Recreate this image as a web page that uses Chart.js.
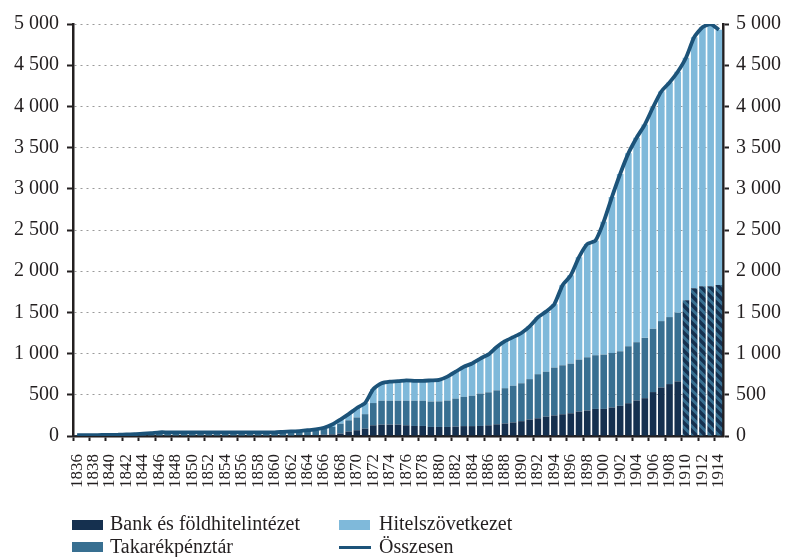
<!DOCTYPE html>
<html lang="hu">
<head>
<meta charset="UTF-8">
<title>Hitelintézetek 1836–1914</title>
<script src="https://cdn.jsdelivr.net/npm/chart.js"></script>
<style>
    body { margin: 0; background: #fff; }
    #wrap { position: relative; width: 787px; height: 557px; }
    #chart { position: absolute; left: 0; top: 0; }
    .lg-box { position: absolute; width: 31px; height: 10px; }
    .lg-line { position: absolute; width: 32px; height: 3px; }
    .lg-txt { position: absolute; font-family: 'Liberation Serif', serif; font-size: 20px; line-height: 20px; color: #231f20; white-space: nowrap; }
</style>
</head>
<body>
<div id="wrap">
    <canvas id="chart" width="787" height="557"></canvas>
    <!-- legend, two columns like the original -->
    <div class="lg-box" style="left:72px; top:520px; background:#15304f"></div>
    <div class="lg-txt" style="left:110px; top:513px">Bank és földhitelintézet</div>
    <div class="lg-box" style="left:72px; top:542px; background:#386f91"></div>
    <div class="lg-txt" style="left:110px; top:536px">Takarékpénztár</div>
    <div class="lg-box" style="left:339px; top:520px; background:#7fb9da"></div>
    <div class="lg-txt" style="left:379px; top:513px">Hitelszövetkezet</div>
    <div class="lg-line" style="left:339px; top:546px; background:#1c5379"></div>
    <div class="lg-txt" style="left:379px; top:536px">Összesen</div>
</div>

<script>
const years = [
    '1836','1837','1838','1839','1840','1841','1842','1843','1844','1845',
    '1846','1847','1848','1849','1850','1851','1852','1853','1854','1855',
    '1856','1857','1858','1859','1860','1861','1862','1863','1864','1865',
    '1866','1867','1868','1869','1870','1871','1872','1873','1874','1875',
    '1876','1877','1878','1879','1880','1881','1882','1883','1884','1885',
    '1886','1887','1888','1889','1890','1891','1892','1893','1894','1895',
    '1896','1897','1898','1899','1900','1901','1902','1903','1904','1905',
    '1906','1907','1908','1909','1910','1911','1912','1913','1914'
];

// Bank és földhitelintézet
const bank = [
    0, 0, 0, 0, 0, 0, 0, 0, 0, 0,
    5, 5, 5, 5, 5, 5, 5, 5, 5, 5,
    5, 5, 5, 5, 5, 5, 5, 10, 10, 10,
    15, 20, 30, 55, 70, 90, 130, 138, 138, 138,
    130, 122, 122, 110, 110, 110, 114, 120, 120, 122,
    130, 142, 152, 165, 180, 200, 215, 235, 250, 264,
    276, 297, 309, 329, 329, 346, 366, 398, 431, 459,
    533, 589, 630, 663, null, null, null, null, null
];

// Takarékpénztár
const takarek = [
    10, 10, 10, 12, 13, 15, 20, 22, 28, 35,
    40, 40, 40, 40, 40, 40, 40, 40, 40, 40,
    40, 40, 40, 40, 40, 45, 50, 50, 55, 60,
    70, 90, 120, 135, 155, 175, 270, 290, 290, 290,
    298, 306, 306, 308, 310, 320, 340, 355, 368, 393,
    400, 412, 428, 445, 460, 490, 535, 545, 580, 594,
    602, 630, 646, 651, 659, 662, 662, 691, 707, 732,
    768, 805, 813, 833, null, null, null, null, null
];

// 1910-1914: bank + takarékpénztár together (hatched bars)
const bankTakarek = [
    null, null, null, null, null, null, null, null, null, null,
    null, null, null, null, null, null, null, null, null, null,
    null, null, null, null, null, null, null, null, null, null,
    null, null, null, null, null, null, null, null, null, null,
    null, null, null, null, null, null, null, null, null, null,
    null, null, null, null, null, null, null, null, null, null,
    null, null, null, null, null, null, null, null, null, null,
    null, null, null, null, 1646, 1793, 1817, 1817, 1833
];

// Hitelszövetkezet
const hitel = [
    0, 0, 0, 0, 0, 0, 0, 0, 0, 0,
    0, 0, 0, 0, 0, 0, 0, 0, 0, 0,
    0, 0, 0, 0, 0, 0, 0, 0, 5, 10,
    15, 30, 50, 75, 115, 135, 170, 212, 232, 237,
    247, 242, 242, 257, 260, 290, 326, 365, 392, 425,
    460, 526, 570, 590, 610, 640, 690, 730, 770, 972,
    1072, 1243, 1375, 1390, 1612, 1892, 2152, 2341, 2482, 2589,
    2689, 2786, 2847, 2924, 2944, 3047, 3143, 3193, 3097
];

// Összesen
const total = [
    10, 10, 10, 12, 13, 15, 20, 22, 28, 35,
    45, 45, 45, 45, 45, 45, 45, 45, 45, 45,
    45, 45, 45, 45, 45, 50, 55, 60, 70, 80,
    100, 140, 200, 265, 340, 400, 570, 640, 660, 665,
    675, 670, 670, 675, 680, 720, 780, 840, 880, 940,
    990, 1080, 1150, 1200, 1250, 1330, 1440, 1510, 1600, 1830,
    1950, 2170, 2330, 2370, 2600, 2900, 3180, 3430, 3620, 3780,
    3990, 4180, 4290, 4420, 4590, 4840, 4960, 5000, 4930
];

const yTicks = [0, 500, 1000, 1500, 2000, 2500, 3000, 3500, 4000, 4500, 5000];

const cBank = '#15304f';
const cTak = '#386f91';
const cHitel = '#7fb9da';
const cTotal = '#1c5379';
const axisColor = '#231f20';
const font = 'Liberation Serif';

function hatch() {
    const s = 9;
    const c = document.createElement('canvas');
    c.width = s; c.height = s;
    const g = c.getContext('2d');
    g.fillStyle = cTak;
    g.fillRect(0, 0, s, s);
    g.strokeStyle = cBank;
    g.lineWidth = 3.4;
    g.beginPath();
    for (let k = -1; k <= 1; k++) {
        g.moveTo(-1, -1 + k * s);
        g.lineTo(s + 1, s + 1 + k * s);
    }
    g.stroke();
    return g.createPattern(c, 'repeat');
}

function fmt(v) {
    return String(v).replace(/\B(?=(\d{3})+(?!\d))/g, ' ');
}

const ctx = document.getElementById('chart').getContext('2d');
const barOpts = { barPercentage: 0.8, categoryPercentage: 1, order: 1, stack: 'bars' };

new Chart(ctx, {
    type: 'bar',
    data: {
        labels: years,
        datasets: [
            { label: 'Bank és földhitelintézet', data: bank, backgroundColor: cBank, ...barOpts },
            { label: 'Takarékpénztár', data: takarek, backgroundColor: cTak, ...barOpts },
            { label: 'Bank és takarékpénztár', data: bankTakarek, backgroundColor: hatch(), ...barOpts },
            { label: 'Hitelszövetkezet', data: hitel, backgroundColor: cHitel, ...barOpts },
            {
                type: 'line',
                label: 'Összesen',
                data: total,
                borderColor: cTotal,
                borderWidth: 3.8,
                pointRadius: 0,
                tension: 0.2,
                order: 0,
                stack: 'line'
            }
        ]
    },
    options: {
        responsive: false,
        animation: false,
        layout: { padding: { top: 24, left: 0, right: 0, bottom: 0 } },
        plugins: {
            legend: { display: false },
            tooltip: { enabled: false }
        },
        scales: {
            x: {
                stacked: true,
                offset: true,
                grid: {
                    offset: true,
                    drawOnChartArea: false,
                    tickLength: 5,
                    tickWidth: 2,
                    tickColor: (c) => (c.index % 2 === 0 ? axisColor : 'rgba(0,0,0,0)')
                },
                border: { color: axisColor, width: 2.5 },
                ticks: {
                    autoSkip: false,
                    minRotation: 90,
                    maxRotation: 90,
                    padding: 13,
                    color: axisColor,
                    font: { family: font, size: 17 },
                    callback: function (v, i) { return i % 2 === 0 ? this.getLabelForValue(v) : ''; }
                },
                afterFit: (s) => { s.height = 121; }
            },
            y: {
                stacked: true,
                min: 0,
                max: 5000,
                afterBuildTicks: (s) => { s.ticks = yTicks.map(v => ({ value: v })); },
                grid: {
                    color: '#9a9a9a',
                    lineWidth: 1,
                    tickColor: axisColor,
                    tickLength: 6,
                    tickWidth: 2
                },
                border: { color: axisColor, width: 2.5, dash: [2, 4] },
                ticks: {
                    padding: 8,
                    color: axisColor,
                    font: { family: font, size: 20 },
                    callback: (v) => fmt(v)
                },
                afterFit: (s) => { s.width = 73; }
            },
            y2: {
                position: 'right',
                min: 0,
                max: 5000,
                afterBuildTicks: (s) => { s.ticks = yTicks.map(v => ({ value: v })); },
                grid: {
                    drawOnChartArea: false,
                    tickColor: axisColor,
                    tickLength: 6,
                    tickWidth: 2
                },
                border: { color: axisColor, width: 2.5 },
                ticks: {
                    padding: 7,
                    color: axisColor,
                    font: { family: font, size: 20 },
                    callback: (v) => fmt(v)
                },
                afterFit: (s) => { s.width = 64; }
            }
        }
    }
});
</script>
</body>
</html>
